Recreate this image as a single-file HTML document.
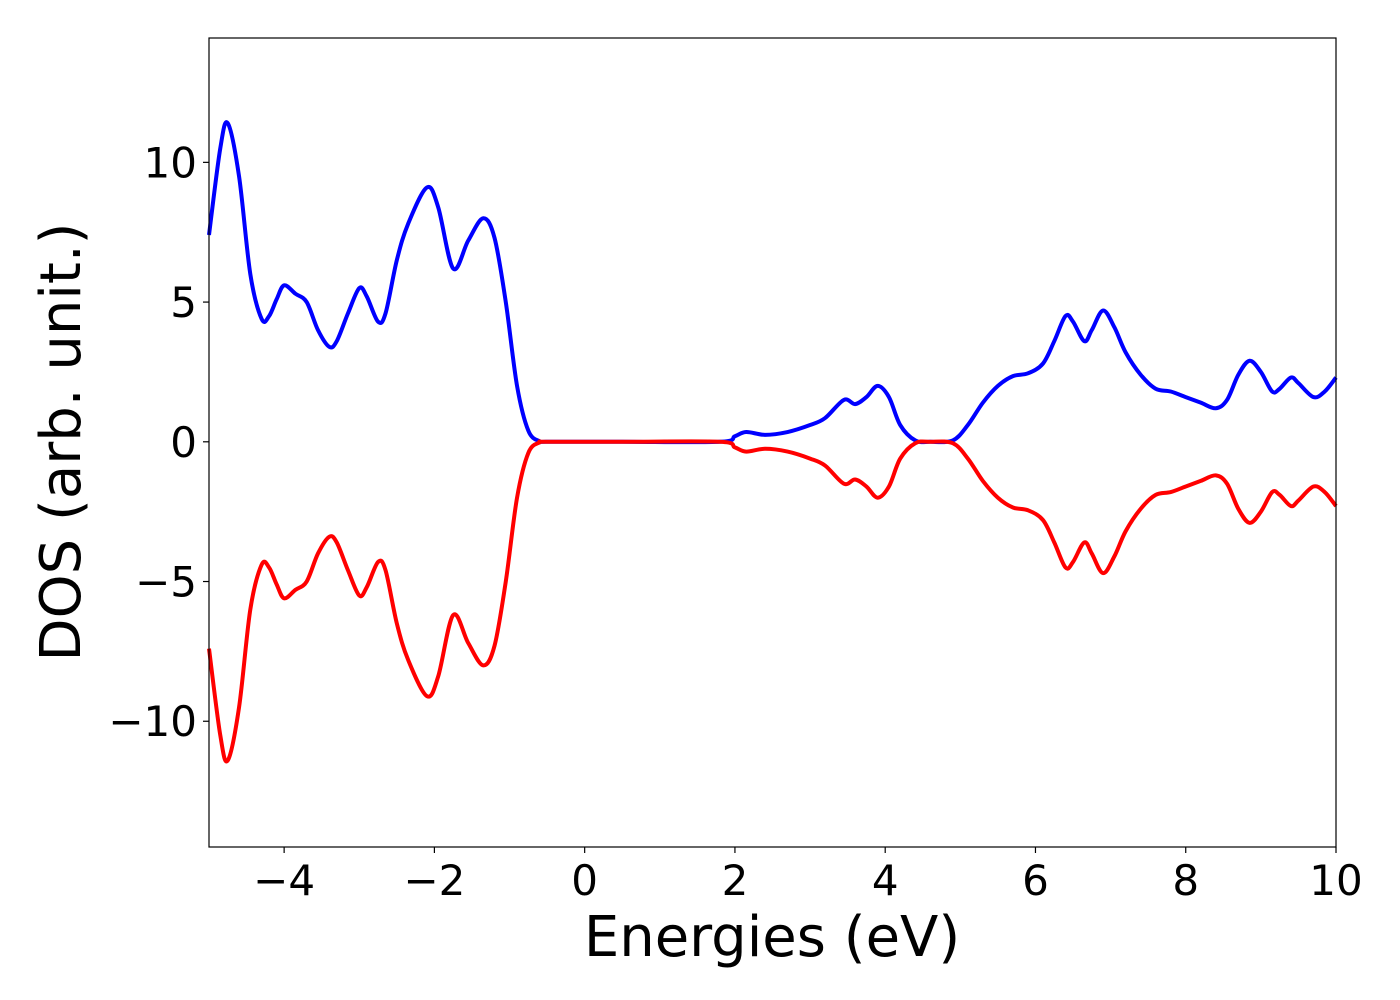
<!DOCTYPE html>
<html><head><meta charset="utf-8"><style>
html,body{margin:0;padding:0;background:#fff;}
svg{display:block;font-family:"DejaVu Sans","Liberation Sans",sans-serif;}
</style></head><body>
<svg id="chart" width="1400" height="1000" viewBox="0 0 1400 1000" xmlns="http://www.w3.org/2000/svg">
<rect x="0" y="0" width="1400" height="1000" fill="#fff"/>
<g id="plot"></g>
<rect x="209" y="38" width="1127" height="809" fill="none" stroke="#000" stroke-width="1.2"/>
<g id="ticks"></g>
<text x="772" y="956" font-size="56" text-anchor="middle">Energies (eV)</text>
<text transform="translate(80,442) rotate(-90)" font-size="56" text-anchor="middle">DOS (arb. unit.)</text>
</svg>
<script>
const energies = [-5,-4.85,-4.75,-4.6,-4.45,-4.3,-4.2,-4.1,-4.0,-3.85,-3.7,-3.55,-3.4,-3.3,-3.15,-3.0,-2.9,-2.75,-2.65,-2.5,-2.35,-2.1,-1.95,-1.75,-1.55,-1.35,-1.2,-1.05,-0.9,-0.75,-0.6,-0.5,0.5,1.8,2.0,2.15,2.4,2.7,3.0,3.2,3.45,3.6,3.75,3.9,4.05,4.2,4.4,4.6,4.9,5.1,5.3,5.5,5.7,5.9,6.1,6.25,6.4,6.5,6.65,6.75,6.9,7.05,7.2,7.4,7.6,7.8,8.0,8.2,8.4,8.55,8.7,8.85,9.0,9.15,9.25,9.4,9.5,9.7,9.85,10];
const dosUp = [7.4,10.5,11.4,9.5,6.0,4.4,4.5,5.1,5.6,5.3,5.0,4.0,3.4,3.6,4.6,5.5,5.2,4.3,4.6,6.5,7.8,9.1,8.4,6.2,7.2,8.0,7.3,5.0,2.0,0.4,0.02,0,0,0,0.2,0.35,0.25,0.35,0.6,0.85,1.5,1.35,1.6,2.0,1.6,0.6,0.05,0,0.05,0.6,1.4,2.0,2.35,2.45,2.8,3.6,4.5,4.3,3.6,4.0,4.7,4.1,3.2,2.4,1.9,1.8,1.6,1.4,1.2,1.5,2.4,2.9,2.5,1.8,1.9,2.3,2.1,1.6,1.8,2.3];
const dosDown = [-7.4,-10.5,-11.4,-9.5,-6.0,-4.4,-4.5,-5.1,-5.6,-5.3,-5.0,-4.0,-3.4,-3.6,-4.6,-5.5,-5.2,-4.3,-4.6,-6.5,-7.8,-9.1,-8.4,-6.2,-7.2,-8.0,-7.3,-5.0,-2.0,-0.4,-0.02,0,0,0,-0.2,-0.35,-0.25,-0.35,-0.6,-0.85,-1.5,-1.35,-1.6,-2.0,-1.6,-0.6,-0.05,0,-0.05,-0.6,-1.4,-2.0,-2.35,-2.45,-2.8,-3.6,-4.5,-4.3,-3.6,-4.0,-4.7,-4.1,-3.2,-2.4,-1.9,-1.8,-1.6,-1.4,-1.2,-1.5,-2.4,-2.9,-2.5,-1.8,-1.9,-2.3,-2.1,-1.6,-1.8,-2.3];
const xTicks = [-4,-2,0,2,4,6,8,10];
const xTickLabels = ["\u22124","\u22122","0","2","4","6","8","10"];
const yTicks = [-10,-5,0,5,10];
const yTickLabels = ["\u221210","\u22125","0","5","10"];

const X0=209, X1=1336, Y0=38, Y1=847;
const xMin=-5, xMax=10, yMin=-14.5, yMax=14.45;
function sx(v){return X0+(v-xMin)/(xMax-xMin)*(X1-X0);}
function sy(v){return Y1-(v-yMin)/(yMax-yMin)*(Y1-Y0);}
const NS="http://www.w3.org/2000/svg";

function pathFor(xs, ys){
  const p = xs.map((x,i)=>[sx(x),sy(ys[i])]);
  let d = "M"+p[0][0].toFixed(2)+","+p[0][1].toFixed(2);
  for(let i=0;i<p.length-1;i++){
    const a=p[Math.max(0,i-1)], b=p[i], c=p[i+1], e=p[Math.min(p.length-1,i+2)];
    const c1=[b[0]+(c[0]-a[0])/6, b[1]+(c[1]-a[1])/6];
    const c2=[c[0]-(e[0]-b[0])/6, c[1]-(e[1]-b[1])/6];
    d+=" C"+c1[0].toFixed(2)+","+c1[1].toFixed(2)+" "+c2[0].toFixed(2)+","+c2[1].toFixed(2)+" "+c[0].toFixed(2)+","+c[1].toFixed(2);
  }
  return d;
}
const plot=document.getElementById("plot");
const up=document.createElementNS(NS,"path");


up.setAttribute("d",pathFor(energies,dosUp));
up.setAttribute("fill","none");up.setAttribute("stroke","#0000ff");up.setAttribute("stroke-width","4");up.setAttribute("stroke-linejoin","round");
const dn=document.createElementNS(NS,"path");


dn.setAttribute("d",pathFor(energies,dosDown));
dn.setAttribute("fill","none");dn.setAttribute("stroke","#ff0000");dn.setAttribute("stroke-width","4");dn.setAttribute("stroke-linejoin","round");
plot.appendChild(up);plot.appendChild(dn);

const ticks=document.getElementById("ticks");
xTicks.forEach((v,i)=>{
  const l=document.createElementNS(NS,"line");
  
  
  l.setAttribute("x1",sx(v));l.setAttribute("x2",sx(v));l.setAttribute("y1",Y1);l.setAttribute("y2",Y1+6);l.setAttribute("stroke","#000");l.setAttribute("stroke-width","1.2");
  ticks.appendChild(l);
  const t=document.createElementNS(NS,"text");
  
  
  t.setAttribute("x",sx(v));t.setAttribute("y",895);t.setAttribute("font-size","42");t.setAttribute("text-anchor","middle");
  t.textContent=xTickLabels[i];
  ticks.appendChild(t);
});
yTicks.forEach((v,i)=>{
  const l=document.createElementNS(NS,"line");
  
  
  l.setAttribute("x1",X0-6);l.setAttribute("x2",X0);l.setAttribute("y1",sy(v));l.setAttribute("y2",sy(v));l.setAttribute("stroke","#000");l.setAttribute("stroke-width","1.2");
  ticks.appendChild(l);
  const t=document.createElementNS(NS,"text");
  
  
  t.setAttribute("x",X0-12);t.setAttribute("y",sy(v)+15);t.setAttribute("font-size","42");t.setAttribute("text-anchor","end");
  t.textContent=yTickLabels[i];
  ticks.appendChild(t);
});
</script>
</body></html>
